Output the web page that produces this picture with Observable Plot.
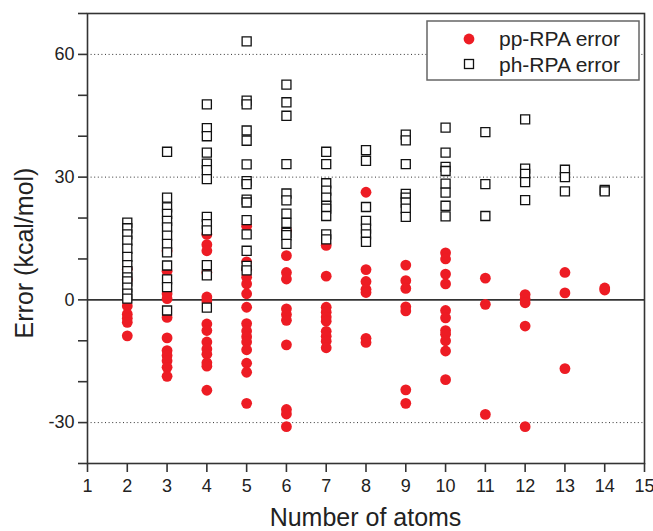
<!DOCTYPE html>
<html><head><meta charset="utf-8">
<script src="https://cdn.jsdelivr.net/npm/d3@7"></script>
<script src="https://cdn.jsdelivr.net/npm/@observablehq/plot@0.6"></script>
<style>body{margin:0;background:#fff}</style>
</head><body><div id="chart"></div>
<script>
// Number of atoms (x categories)
const atoms = [2, 3, 4, 5, 6, 7, 8, 9, 10, 11, 12, 13, 14];

// pp-RPA error (kcal/mol), one list per atom count
const ppRPAError = [
  [-1.5, -3.5, -4.5, -5.5, -8.8, 7.5, 5],
  [12, 7, 1.5, 0.3, -4.3, -9.3, -12.4, -13.6, -14.9, -16.5, -18.7],
  [16, 13.5, 12, 6.7, 0.7, -0.2, -5.9, -7.5, -10.3, -12, -13.3, -15.4, -16.2, -22.1],
  [18, 9.3, 7.5, 5.5, 3.9, 1.5, -1.8, -5.8, -7.6, -9, -10.3, -12.2, -15.5, -17.7, -25.3],
  [17, 10.8, 6.7, 5.1, -2.2, -3.6, -5.0, -11, -26.8, -27.9, -31],
  [13.3, 5.8, -1.8, -3, -4.2, -5.2, -7.7, -8.9, -10.1, -11.7],
  [26.3, 7.4, 4.5, 2.6, 1.8, -9.4, -10.4],
  [8.5, 4.7, 2.8, -1.7, -2.7, -22, -25.3],
  [11.5, 10, 6.3, 3.9, -2.6, -4.4, -7.5, -8.4, -10, -12.5, -19.5],
  [5.3, -1.1, -28],
  [1.3, 0.2, -0.7, -6.4, -31],
  [6.7, 1.7, -16.8],
  [2.9, 2.4]
];

// ph-RPA error (kcal/mol), one list per atom count
const phRPAError = [
  [18.9, 17.5, 16, 14.5, 12.5, 10.5, 8.5, 7, 5.5, 4.5, 3, 1.5, 0.3],
  [36.2, 25, 22.6, 21, 19.3, 17.7, 15.7, 13.7, 11.6, 8.4, 5, 3.1, -2.6],
  [47.8, 42, 40, 36, 33.3, 31.7, 29.5, 20.3, 18.5, 17, 8.5, 6, -1.9],
  [63.2, 48.7, 47.8, 41.4, 38.9, 33.1, 29, 28.3, 24.5, 23.8, 19.5, 16, 12, 8.3, 7.2],
  [52.6, 48.3, 45, 33.2, 26, 24.3, 21.1, 18.8, 16.4, 15.8, 13.7],
  [36.2, 33.2, 28.5, 26.7, 25, 23, 22.3, 20.5, 16, 14.8],
  [36.6, 34, 22.7, 19.3, 17.4, 16, 14.2],
  [40.4, 39, 33.2, 25.9, 25, 23.8, 22.3, 20.3],
  [42.1, 36, 32.5, 31.5, 28.4, 26.2, 23, 20.4],
  [41, 28.3, 20.5],
  [44.1, 32.1, 30.8, 28.8, 24.4],
  [31.8, 30, 26.5],
  [26.9, 26.5]
];

const xTicks = [1, 2, 3, 4, 5, 6, 7, 8, 9, 10, 11, 12, 13, 14, 15];
const yLabelTicks = [60, 30, 0, -30];
const yMinorTicks = [70, 50, 40, 20, 10, -10, -20, -40];
const dottedGrid = [60, 30, -30];
const seriesNames = ["pp-RPA error", "ph-RPA error"];
const xTitle = "Number of atoms";
const yTitle = "Error (kcal/mol)";

const pp = atoms.flatMap((a, i) => ppRPAError[i].map(v => ({atoms: a, error: v})));
const ph = atoms.flatMap((a, i) => phRPAError[i].map(v => ({atoms: a, error: v})));

const FONT = "'Liberation Sans', Arial, Helvetica, sans-serif";
const RED = "#ed1c24";

const svg = Plot.plot({
  width: 653,
  height: 531,
  marginLeft: 87,
  marginRight: 9,
  marginTop: 13,
  marginBottom: 68,
  style: {fontFamily: FONT, background: "#fff", color: "#222"},
  x: {domain: [1, 15]},
  y: {domain: [-40, 70]},
  marks: [
    Plot.ruleY(dottedGrid, {stroke: "#333", strokeWidth: 1, strokeDasharray: "1,2.6"}),
    Plot.ruleY([0], {stroke: "#333", strokeWidth: 1.7}),
    Plot.dot(pp, {x: "atoms", y: "error", r: 5.4, fill: RED}),
    Plot.dot(ph, {x: "atoms", y: "error", symbol: "square", r: 5.1, fill: "white", stroke: "#111", strokeWidth: 1.3}),
    Plot.frame({stroke: "#333", strokeWidth: 1.6}),
    Plot.axisX({ticks: xTicks, tickSize: 9, tickPadding: 7, tickFormat: d => String(d), fontSize: 18, label: null, stroke: "#333", strokeWidth: 1.6}),
    Plot.axisY({ticks: yLabelTicks, tickSize: 9, tickPadding: 4, tickFormat: d => String(d), fontSize: 18, label: null, stroke: "#333", strokeWidth: 1.6}),
    Plot.axisY({ticks: yMinorTicks, tickSize: 9, tickFormat: () => "", label: null, stroke: "#333", strokeWidth: 1.6})
  ]
});

const s = d3.select(svg);
// axis titles
s.append("text").attr("x", 365.5).attr("y", 526).attr("text-anchor", "middle")
  .attr("font-size", 25).attr("fill", "#222").attr("font-family", FONT).text(xTitle);
s.append("text").attr("transform", "translate(33,253) rotate(-90)").attr("text-anchor", "middle")
  .attr("font-size", 25).attr("fill", "#222").attr("font-family", FONT).text(yTitle);

// legend
const lg = s.append("g");
lg.append("rect").attr("x", 427).attr("y", 21).attr("width", 212).attr("height", 59)
  .attr("fill", "white").attr("stroke", "#666").attr("stroke-width", 1.5);
lg.append("circle").attr("cx", 469).attr("cy", 39).attr("r", 5.4).attr("fill", RED);
lg.append("rect").attr("x", 464.5).attr("y", 59.5).attr("width", 9).attr("height", 9)
  .attr("fill", "white").attr("stroke", "#111").attr("stroke-width", 1.3);
lg.append("text").attr("x", 499).attr("y", 46).attr("text-anchor", "start").attr("font-size", 21).attr("fill", "#222")
  .attr("font-family", FONT).text(seriesNames[0]);
lg.append("text").attr("x", 499).attr("y", 72).attr("text-anchor", "start").attr("font-size", 21).attr("fill", "#222")
  .attr("font-family", FONT).text(seriesNames[1]);

document.getElementById("chart").appendChild(svg);
</script>
</body></html>
